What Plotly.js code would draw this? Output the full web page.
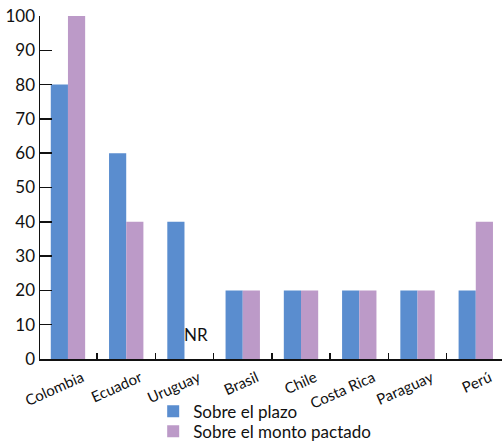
<!DOCTYPE html>
<html>
<head>
<meta charset="utf-8">
<script src="https://cdn.plot.ly/plotly-3.0.1.min.js"></script>
<style>
  html, body { margin: 0; padding: 0; background: #fff; }
  #chart { width: 503px; height: 445px; }
</style>
</head>
<body>
<div id="chart"></div>
<script>
// Countries on the horizontal axis
const paises = ["Colombia", "Ecuador", "Uruguay", "Brasil", "Chile", "Costa Rica", "Paraguay", "Perú"];
// Percent values per series (Uruguay has no reply for the agreed amount)
const sobrePlazo = [80, 60, 40, 20, 20, 20, 20, 20];
const sobreMonto = [100, 40, null, 20, 20, 20, 20, 40];
const yTicks = [0, 10, 20, 30, 40, 50, 60, 70, 80, 90, 100];

const fontFam = "Lato, 'Open Sans', sans-serif";

const traces = [
  {
    type: "bar", name: "Sobre el plazo", x: paises, y: sobrePlazo,
    marker: { color: "#5a8dcf" }, hoverinfo: "x+y", legend: "legend"
  },
  {
    type: "bar", name: "Sobre el monto pactado", x: paises, y: sobreMonto,
    marker: { color: "#bc9ac8" }, hoverinfo: "x+y", legend: "legend2"
  }
];

// one legend box per series so the two rows sit close together
const legendBase = {
  orientation: "v", xanchor: "left", yanchor: "middle",
  font: { size: 17, family: fontFam, color: "#111" },
  itemwidth: 30, bgcolor: "rgba(0,0,0,0)", borderwidth: 0
};

const layout = {
  width: 503, height: 445,
  margin: { l: 40, r: 1, t: 16, b: 86, autoexpand: false },
  paper_bgcolor: "#fff", plot_bgcolor: "#fff",
  barmode: "group", bargap: 0.41, bargroupgap: 0,
  font: { family: fontFam, color: "#111" },
  showlegend: true,
  legend: Object.assign({}, legendBase, { x: 0.245, y: -0.154 }),
  legend2: Object.assign({}, legendBase, { x: 0.245, y: -0.212 }),
  xaxis: {
    type: "category", range: [-0.48, 7.45], automargin: false,
    showline: true, linecolor: "#111", linewidth: 1.5,
    ticks: "inside", tickson: "boundaries", ticklen: 6, tickcolor: "#111", tickwidth: 1.5,
    tickangle: -24, ticklabelshift: 14, ticklabelstandoff: 3,
    tickfont: { size: 15, family: fontFam, color: "#111" },
    showgrid: false, zeroline: false
  },
  yaxis: {
    range: [0, 100], tickvals: yTicks, ticktext: yTicks.map(String), automargin: false,
    showline: true, linecolor: "#111", linewidth: 1.5,
    ticks: "inside", ticklen: 12, tickcolor: "#111", tickwidth: 1.5,
    tickfont: { size: 17, family: fontFam, color: "#111" },
    showgrid: false, zeroline: false
  },
  annotations: [
    {
      x: "Uruguay", y: 7, xref: "x", yref: "y", xshift: 12, yshift: 0,
      text: "NR", showarrow: false,
      font: { size: 17, family: fontFam, color: "#111" }
    }
  ]
};

Plotly.newPlot("chart", traces, layout, { displayModeBar: false, staticPlot: true });
</script>
</body>
</html>
